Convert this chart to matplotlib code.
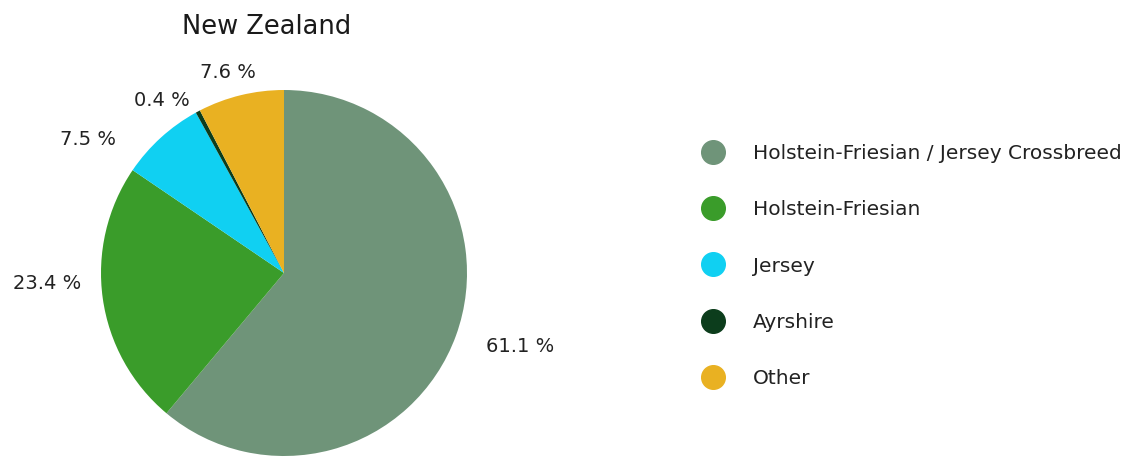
import matplotlib.pyplot as plt
from matplotlib.lines import Line2D

plt.rcParams['font.family'] = ['DejaVu Sans']

breeds = ['Holstein-Friesian / Jersey Crossbreed', 'Holstein-Friesian', 'Jersey', 'Ayrshire', 'Other']
shares = [61.1, 23.4, 7.5, 0.4, 7.6]
colors = ['#6f9479', '#3a9c2a', '#10d0f2', '#0c3d1c', '#e9b122']
# label positions in pie units (radius = 1)
label_xy = [(1.29, -0.40), (-1.295, -0.055), (-1.07, 0.73), (-0.667, 0.94), (-0.306, 1.093)]

W, H = 1148, 457
fig = plt.figure(figsize=(W / 100, H / 100), dpi=100)

cx, cy, r = 284, 273, 183
ax = fig.add_axes([(cx - r) / W, (H - cy - r) / H, 2 * r / W, 2 * r / H])
ax.pie(shares, colors=colors, startangle=90, counterclock=False, radius=1,
       wedgeprops=dict(linewidth=0))
ax.set_xlim(-1, 1)
ax.set_ylim(-1, 1)
ax.set_aspect('equal')

for v, (x, y) in zip(shares, label_xy):
    ax.text(x, y, f'{v:.1f} %', ha='center', va='center', fontsize=14,
            color='#222222', clip_on=False)

fig.text(267 / W, 1 - 27 / H, 'New Zealand', ha='center', va='center',
         fontsize=18.5, color='#1a1a1a')

handles = [Line2D([], [], marker='o', linestyle='', markersize=17,
                  markerfacecolor=c, markeredgecolor=c) for c in colors]
fig.legend(handles, breeds, loc='center left', bbox_to_anchor=(675 / W, 1 - 266 / H),
           frameon=False, fontsize=14.5, labelspacing=1.86, handletextpad=0.95,
           labelcolor='#222222')

fig.savefig('out.png', dpi=100, facecolor='white')
